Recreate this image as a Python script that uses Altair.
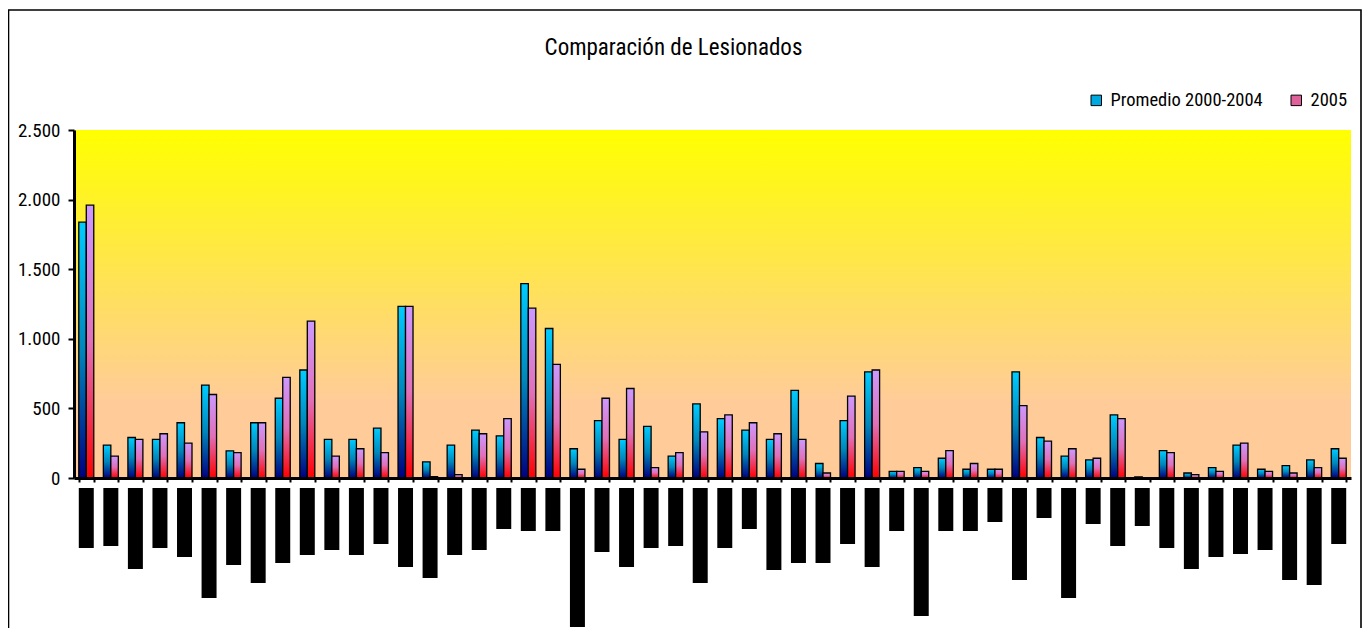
import altair as alt
import pandas as pd

# ---------------- data ----------------
categorias = [f"Cat {i}" for i in range(1, 53)]
series = ["Promedio 2000-2004", "2005"]

promedio_2000_2004 = [1838, 236, 291, 277, 397, 667, 195, 397, 573, 776,
                      277, 277, 359, 1233, 116, 236, 344, 303, 1397, 1074,
                      210, 412, 277, 371, 157, 532, 426, 344, 277, 629,
                      104, 412, 763, 48, 75, 142, 63, 63, 763, 291,
                      157, 130, 453, 8, 197, 36, 75, 236, 63, 89,
                      130, 210]
anio_2005 = [1960, 157, 277, 318, 250, 600, 183, 397, 723, 1127,
             157, 210, 183, 1233, 10, 24, 318, 426, 1221, 816,
             63, 573, 643, 75, 183, 332, 453, 397, 318, 277,
             36, 588, 776, 48, 48, 197, 104, 63, 520, 265,
             210, 142, 426, 2, 183, 24, 48, 250, 48, 36,
             75, 142]
# length of the (illegible, solid black) category labels under the axis
largo_etiqueta = [60, 58, 81, 60, 69, 110, 77, 95, 75, 67,
                  62, 67, 56, 79, 90, 67, 62, 41, 43, 43,
                  139, 64, 79, 60, 58, 95, 60, 41, 82, 75,
                  75, 56, 79, 43, 128, 43, 43, 34, 92, 30,
                  110, 36, 58, 38, 60, 81, 69, 66, 62, 92,
                  97, 56]
y_ticks = [0, 500, 1000, 1500, 2000, 2500]

rows = []
for c, a, b in zip(categorias, promedio_2000_2004, anio_2005):
    rows.append({"categoria": c, "serie": series[0], "valor": a})
    rows.append({"categoria": c, "serie": series[1], "valor": b})
df = pd.DataFrame(rows)
df_lab = pd.DataFrame({"categoria": categorias, "largo": largo_etiqueta})

# ---------------- styles ----------------
W, H = 1277, 348
FONT = ("Liberation Sans Narrow, Arial Narrow, Noto Sans Condensed, "
        "Roboto Condensed, DejaVu Sans Condensed, sans-serif")


def vgrad(stops):
    return {"gradient": "linear", "x1": 0, "y1": 0, "x2": 0, "y2": 1,
            "stops": [{"offset": o, "color": c} for o, c in stops]}


grad_blue = vgrad([(0, "#00CCFF"), (0.5, "#0086BB"), (1, "#000080")])
grad_pink = vgrad([(0, "#CC99FF"), (0.5, "#E070B8"), (1, "#FF0000")])
grad_bg = vgrad([(0, "#FFFF00"), (0.78, "#FFCC99"), (1, "#FFCC99")])

x_enc = alt.X(
    "categoria:N", sort=categorias,
    scale=alt.Scale(paddingInner=0.39, paddingOuter=0.195),
    axis=alt.Axis(title=None, labels=False, tickBand="extent", tickSize=4,
                  tickWidth=2, tickColor="black", domainColor="black",
                  domainWidth=3, zindex=1),
)
xo_enc = alt.XOffset("serie:N", sort=series,
                     scale=alt.Scale(domain=series, paddingInner=0, paddingOuter=0))
y_enc = alt.Y(
    "valor:Q", scale=alt.Scale(domain=[0, 2500], nice=False),
    axis=alt.Axis(title=None, values=y_ticks, grid=False,
                  labelExpr="replace(datum.label, ',', '.')",
                  labelFont=FONT, labelFontSize=19, labelColor="black",
                  labelPadding=8, tickSize=6, tickWidth=2, tickColor="black",
                  domainColor="black", domainWidth=3, zindex=1),
)

one = alt.Data(values=[{"k": 1}])

fondo = alt.Chart(one).mark_rect(color=grad_bg).encode(
    x=alt.value(0), x2=alt.value(W), y=alt.value(0), y2=alt.value(H))

marco = alt.Chart(one).mark_rect(fillOpacity=0, stroke="black", strokeWidth=1.6).encode(
    x=alt.value(-65.5), x2=alt.value(1287), y=alt.value(-120), y2=alt.value(H + 300))

barras_a = alt.Chart(df).transform_filter(alt.datum.serie == series[0]).mark_bar(
    color=grad_blue, stroke="black", strokeWidth=1.3).encode(x=x_enc, xOffset=xo_enc, y=y_enc)
barras_b = alt.Chart(df).transform_filter(alt.datum.serie == series[1]).mark_bar(
    color=grad_pink, stroke="black", strokeWidth=1.3).encode(x=x_enc, xOffset=xo_enc, y=y_enc)

leyenda = alt.Chart(df).mark_square(opacity=0).encode(
    x=x_enc, xOffset=xo_enc, y=y_enc,
    color=alt.Color("serie:N",
                    scale=alt.Scale(domain=series, range=["#00A8E0", "#E0609A"]),
                    legend=alt.Legend(title=None, orient="none", legendX=1013, legendY=-39,
                                      direction="horizontal", symbolType="square",
                                      symbolSize=110, symbolStrokeColor="black",
                                      symbolStrokeWidth=1, symbolOpacity=1,
                                      labelFont=FONT, labelFontSize=18.5, labelColor="black",
                                      labelLimit=400, columnPadding=24, labelOffset=5,
                                      padding=0)),
)

principal = alt.layer(fondo, barras_a, barras_b, leyenda)

etiquetas = alt.Chart(df_lab).mark_bar(color="black").encode(
    x=x_enc,
    y=alt.Y("largo:Q", scale=alt.Scale(domain=[0, 200], range=[358, 558]), axis=None),
)

chart = alt.layer(principal, etiquetas, marco).resolve_scale(y="independent").properties(
    width=W, height=H,
    title=alt.Title("Comparación de Lesionados", font=FONT, fontSize=23,
                    fontWeight="normal", color="black", anchor="middle",
                    dx=-39, offset=-51),
    autosize=alt.AutoSizeParams(type="none"),
    padding={"left": 66, "top": 122, "right": 11, "bottom": 150},
).configure_view(stroke="transparent")

chart.save("out.html", embed_options={"renderer": "svg", "actions": False})
